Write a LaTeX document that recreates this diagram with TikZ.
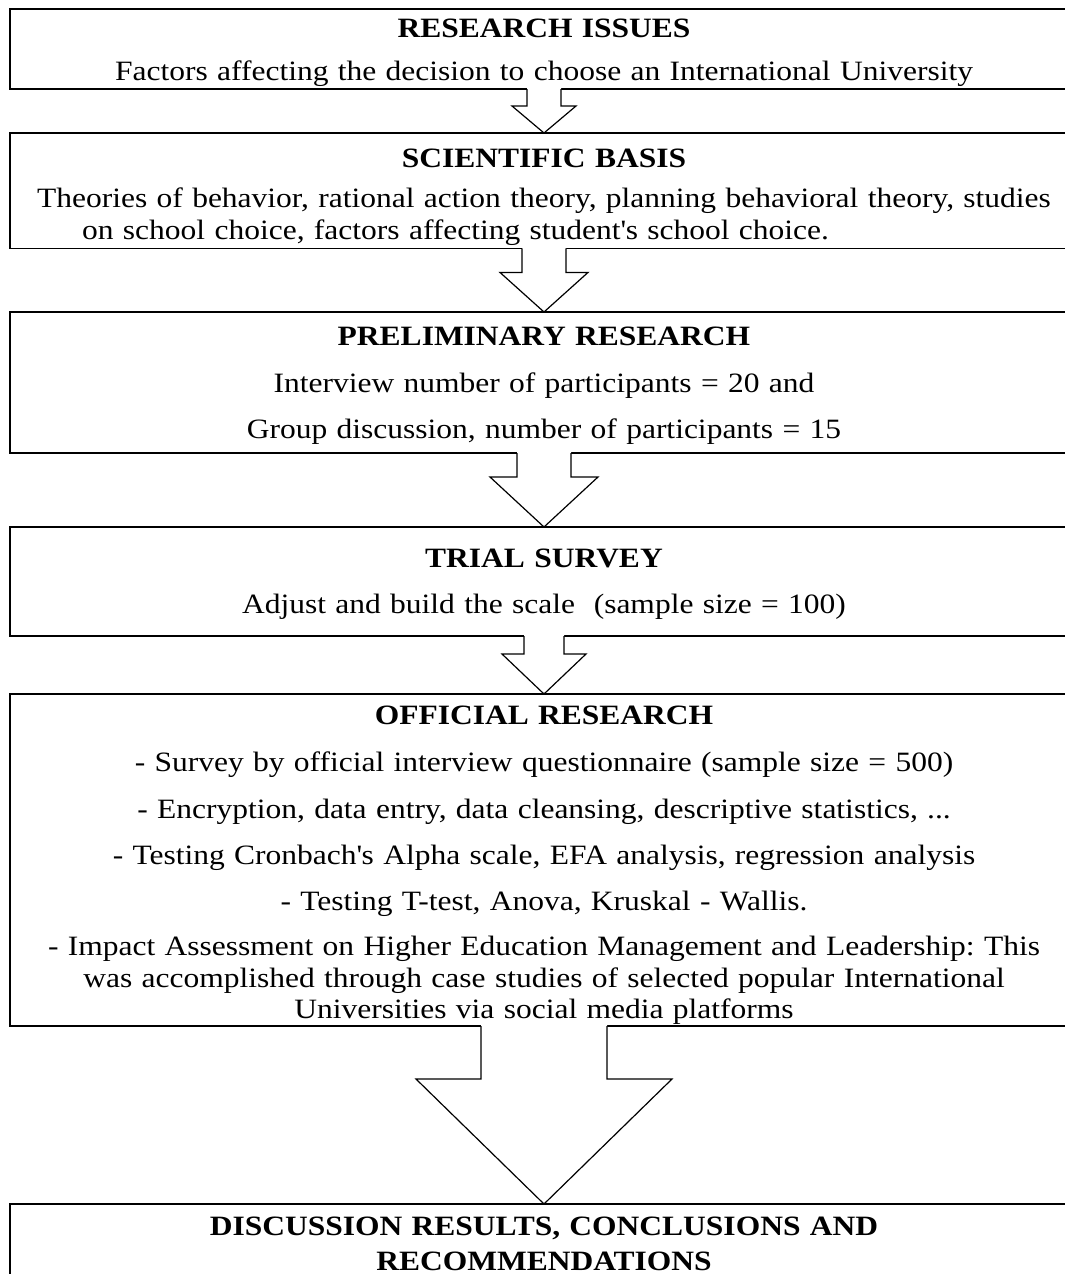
\documentclass[tikz,border=0pt]{standalone}
\usepackage{fontspec}
\setmainfont{Liberation Serif}[FakeStretch=1.125]
\frenchspacing
\usetikzlibrary{calc}
\tikzset{
  stagebox/.style={draw,line width=0.9pt,outer sep=0pt,inner xsep=0pt,inner ysep=0pt,
    minimum width=534pt,text width=528pt,align=center,anchor=north,
    font=\fontsize{14}{15.75}\selectfont},
  arrowline/.style={draw,line width=0.6pt,line join=miter}
}
% block arrow: from, to, stem half width, head half width, shoulder drop
\newcommand{\blockarrow}[5]{
  \fill[white] ($(#1.south)+(-#3,-3)$) -- ($(#1.south)+(-#3,#5)$) -- ($(#1.south)+(-#4,#5)$)
    -- (#2.north) -- ($(#1.south)+(#4,#5)$) -- ($(#1.south)+(#3,#5)$) -- ($(#1.south)+(#3,-3)$) -- cycle;
  \draw[arrowline] ($(#1.south)+(-#3,0)$) -- ($(#1.south)+(-#3,#5)$) -- ($(#1.south)+(-#4,#5)$)
    -- (#2.north) -- ($(#1.south)+(#4,#5)$) -- ($(#1.south)+(#3,#5)$) -- ($(#1.south)+(#3,0)$);
}
\newcommand{\sq}{\textquotesingle}

\begin{document}
\begin{tikzpicture}[x=0.5pt,y=-0.5pt]
\useasboundingbox (0,0) rectangle (1065,1274);

\node[stagebox,minimum height=40pt] (issues) at (544,9)
  {\rule{0pt}{13pt}\textbf{RESEARCH ISSUES}\\[6pt]
   Factors affecting the decision to choose an International University};

\node[stagebox,minimum height=57.5pt] (basis) at (544,133)
  {\rule{0pt}{17pt}\textbf{SCIENTIFIC BASIS}\\[4.5pt]
   \begin{tabular}[t]{@{}l@{}}
   Theories of behavior, rational action theory, planning behavioral theory, studies\\
   \hspace{22.5pt}on school choice, factors affecting student\sq s school choice.
   \end{tabular}};

\node[stagebox,minimum height=70.5pt] (prelim) at (544,312)
  {\rule{0pt}{12pt}\textbf{PRELIMINARY RESEARCH}\\[8pt]
   Interview number of participants = 20 and\\[7pt]
   Group discussion, number of participants = 15};

\node[stagebox,minimum height=54.5pt] (trial) at (544,527)
  {\rule{0pt}{12pt}\textbf{TRIAL SURVEY}\\[7.5pt]
   Adjust and build the scale\ \ (sample size = 100)};

\node[stagebox,minimum height=166pt] (official) at (544,694)
  {\rule{0pt}{14.5pt}\textbf{OFFICIAL RESEARCH}\\[8pt]
   - Survey by official interview questionnaire (sample size = 500)\\[7.5pt]
   - Encryption, data entry, data cleansing, descriptive statistics, ...\\[7.5pt]
   - Testing Cronbach\sq s Alpha scale, EFA analysis, regression analysis\\[7pt]
   - Testing T-test, Anova, Kruskal - Wallis.\\[7pt]
   - Impact Assessment on Higher Education Management and Leadership: This\\
   was accomplished through case studies of selected popular International\\
   Universities via social media platforms};

\node[stagebox,minimum height=40pt] (results) at (544,1204)
  {\textbf{DISCUSSION RESULTS, CONCLUSIONS AND}\\[1.5pt]
   \textbf{RECOMMENDATIONS}};

% arrows between the stages
\blockarrow{issues}{basis}{17}{32}{17}
\blockarrow{basis}{prelim}{22}{44}{24}
\blockarrow{prelim}{trial}{27}{54}{24}
\blockarrow{trial}{official}{20}{42}{18}
\blockarrow{official}{results}{63}{128}{53}

\end{tikzpicture}
\end{document}
